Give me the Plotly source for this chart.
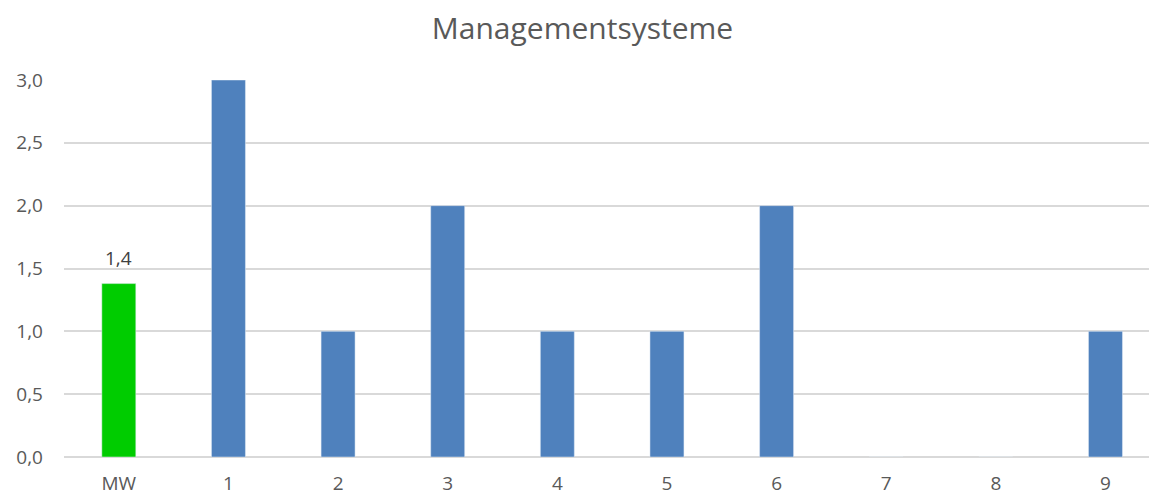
import plotly.graph_objects as go

# Mittelwert + Einzelwerte
mw_label = ["MW"]
mw_value = [1.38]
categories = ["1", "2", "3", "4", "5", "6", "7", "8", "9"]
values = [3, 1, 2, 1, 1, 2, 0, 0, 1]
y_ticks = [0, 0.5, 1.0, 1.5, 2.0, 2.5, 3.0]

fig = go.Figure()
fig.add_trace(go.Bar(
    x=mw_label, y=mw_value,
    marker_color="#00cc00",
    width=0.31,
    showlegend=False,
))
fig.add_trace(go.Bar(
    x=categories, y=values,
    marker_color="#4f81bd",
    width=0.31,
    showlegend=False,
))

# Wertbeschriftung über dem MW-Balken
for lab, val in zip(mw_label, mw_value):
    fig.add_annotation(
        x=lab, y=val,
        text=f"{val:.1f}".replace(".", ","),
        showarrow=False,
        yanchor="bottom",
        yshift=11,
        font=dict(size=19, color="#404040"),
    )

# body hat 8px Rand -> Figur etwas kleiner
fig.update_layout(
    width=1149, height=489,
    separators=",.",
    plot_bgcolor="white",
    paper_bgcolor="white",
    font=dict(family="Open Sans, Liberation Sans, sans-serif", color="#595959", size=19),
    title=dict(text="Managementsysteme", x=0.5, xanchor="center",
               y=0.958, yanchor="middle",
               font=dict(size=30, color="#595959")),
    margin=dict(l=56, r=0, t=72, b=40),
    barmode="overlay",
)
fig.update_xaxes(
    type="category",
    categoryorder="array",
    categoryarray=mw_label + categories,
    range=[-0.5, 9.47],
    showgrid=False,
    showline=False,
    ticks="",
    ticklabelstandoff=13,
    automargin=False,
    tickfont=dict(size=19, color="#595959"),
)
fig.update_yaxes(
    range=[0, 3.0],
    tickvals=y_ticks,
    tickformat=".1f",
    showgrid=True,
    gridcolor="#d9d9d9",
    gridwidth=1.5,
    zeroline=True,
    zerolinecolor="#d9d9d9",
    zerolinewidth=1.5,
    ticklabelstandoff=20,
    automargin=False,
    tickfont=dict(size=19, color="#595959"),
)

fig.write_html("out.html")
